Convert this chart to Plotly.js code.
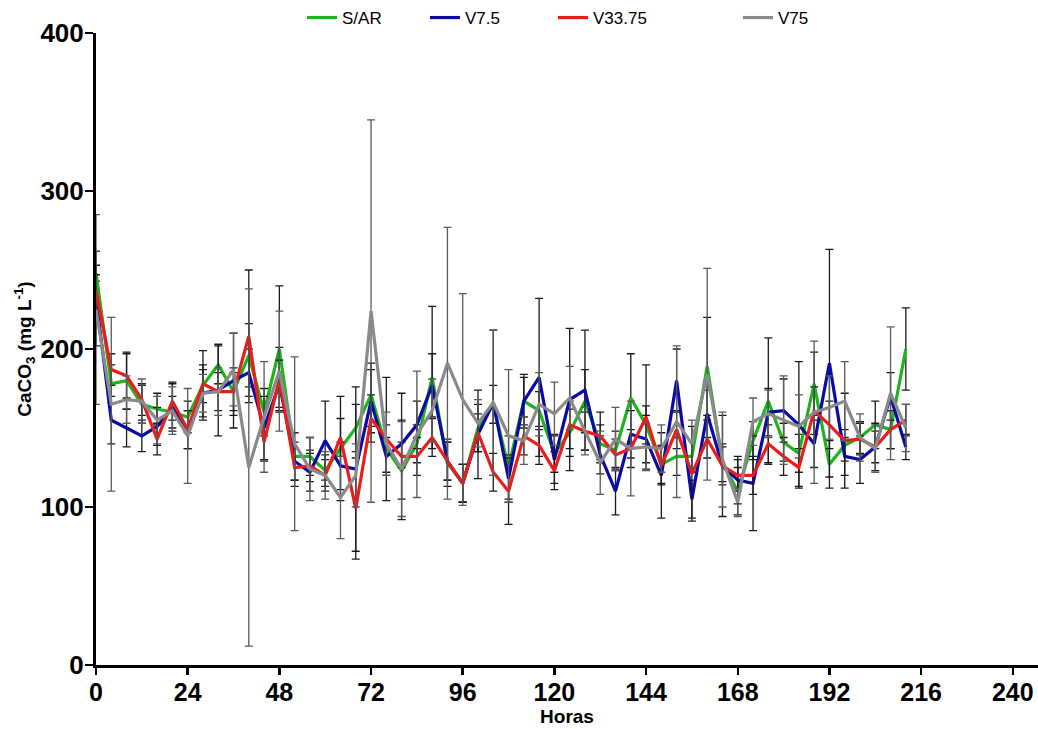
<!DOCTYPE html>
<html>
<head>
<meta charset="utf-8">
<script src="https://cdn.plot.ly/plotly-3.0.1.min.js"></script>
<style>html,body{margin:0;padding:0;background:#fff;}#chart{width:1038px;height:729px;}</style>
</head>
<body>
<div id="chart"></div>
<script>
// Hours (x)
var hours = [0,4,8,12,16,20,24,28,32,36,40,44,48,52,56,60,64,68,72,76,80,84,88,92,96,100,104,108,112,116,120,124,128,132,136,140,144,148,152,156,160,164,168,172,176,180,184,188,192,196,200,204,208,212];

// Series means (CaCO3, mg L-1)
var sar = [248,178,180,165,162,160,157,177,190,173,196,160,200,132,132,123,137,150,171,137,123,140,182,128,115,150,165,125,167,161,134,147,167,140,136,169,152,127,132,132,189,128,110,142,167,141,134,178,127,139,144,152,149,200];
var v75b = [232,155,150,145,151,163,149,172,174,180,185,150,178,129,122,142,126,124,167,132,140,152,177,129,115,146,166,118,167,182,130,168,174,133,110,146,143,120,180,105,159,126,117,115,160,161,152,140,191,132,130,138,170,138];
var v3375 = [237,187,183,168,143,167,149,178,173,173,208,141,181,125,126,120,144,99,156,143,132,132,144,129,115,147,122,110,145,139,123,152,148,145,133,137,157,126,149,121,143,126,120,120,140,132,125,161,152,142,143,138,149,155];
var v75 = [225,165,168,167,155,161,145,172,173,187,125,157,186,140,124,120,106,120,224,140,124,146,161,191,168,153,166,145,142,165,159,169,148,128,143,137,138,137,154,140,184,130,103,154,159,155,151,160,163,167,144,137,172,150];

// Error bars
var sarErr = [5,12,18,12,10,10,10,22,12,15,20,15,40,15,12,10,33,15,20,15,18,12,45,15,12,15,12,20,15,12,12,15,20,12,12,28,12,12,12,10,31,12,15,12,40,12,12,20,15,10,10,15,12,26];
var v75bErr = [30,15,12,10,12,15,12,15,29,30,15,20,15,12,12,25,15,52,20,12,15,15,20,12,12,28,46,15,17,50,15,45,38,12,15,15,15,27,20,12,15,32,15,30,15,20,40,15,72,12,15,15,15,8];
var v3375Err = [10,10,14,10,10,12,12,12,12,12,42,12,20,12,10,10,12,32,15,39,40,12,12,12,12,12,12,21,12,12,12,15,12,15,10,12,33,12,12,30,12,12,10,12,12,12,12,15,15,30,10,10,12,10];
var v75Err = [60,55,15,14,15,15,30,12,15,23,113,35,38,55,20,15,26,20,121,20,30,40,20,86,67,15,46,42,15,20,20,20,15,20,20,30,15,15,48,15,67,30,9,15,15,28,20,45,20,25,15,15,42,15];

var names = ["S/AR","V7.5","V33.75","V75"];
var colors = ["#1DB51D","#0A0AA6","#EE1B1B","#8A8A8A"];
var errColors = ["#1a1a1a","#1a1a1a","#1a1a1a","#5a5a5a"];
var legendIds = ["legend","legend2","legend3","legend4"];
var legendPx = [302, 425, 553, 738];

var ys = [sar, v75b, v3375, v75];
var errs = [sarErr, v75bErr, v3375Err, v75Err];

var traces = ys.map(function(y, i){
  return {
    type: "scatter", mode: "lines", x: hours, y: y, name: names[i],
    legend: legendIds[i],
    line: {color: colors[i], width: 3.2},
    error_y: {type: "data", array: errs[i], visible: true, color: errColors[i], thickness: 1.3, width: 4}
  };
});

var W = 942, plotLeft = 96;
var layout = {
  width: 1038, height: 729,
  margin: {l: 96, r: 0, t: 30, b: 64},
  paper_bgcolor: "#fff", plot_bgcolor: "#fff",
  font: {family: "Liberation Sans, Arial, sans-serif", color: "#000"},
  showlegend: true,
  xaxis: {
    range: [0, 246.6], tickvals: [0,24,48,72,96,120,144,168,192,216,240],
    showline: true, linewidth: 3, linecolor: "#000", ticks: "outside", ticklen: 7, tickwidth: 2.5, tickcolor: "#000",
    ticklabelstandoff: -4,
    showgrid: false, zeroline: false,
    tickfont: {size: 25, weight: "bold", family: "Liberation Sans, Arial, sans-serif"},
    title: {text: "Horas", font: {size: 19, weight: "bold"}, standoff: 0}
  },
  yaxis: {
    range: [0, 400], tickvals: [0,100,200,300,400],
    showline: true, linewidth: 3, linecolor: "#000", ticks: "outside", ticklen: 8, tickwidth: 2.5, tickcolor: "#000",
    ticklabelstandoff: -4,
    showgrid: false, zeroline: false,
    tickfont: {size: 26, weight: "bold", family: "Liberation Sans, Arial, sans-serif"},
    title: {text: "CaCO<sub>3</sub> (mg L<sup>-1</sup>)", font: {size: 19, weight: "bold"}, standoff: 4}
  }
};
legendIds.forEach(function(id, i){
  layout[id] = {
    orientation: "h", x: (legendPx[i] - plotLeft) / W, xanchor: "left",
    y: 1.024, yanchor: "middle", bgcolor: "rgba(0,0,0,0)",
    font: {size: 17, family: "Liberation Sans, Arial, sans-serif"}, itemwidth: 30
  };
});

Plotly.newPlot("chart", traces, layout, {displayModeBar: false, staticPlot: true});
</script>
</body>
</html>
